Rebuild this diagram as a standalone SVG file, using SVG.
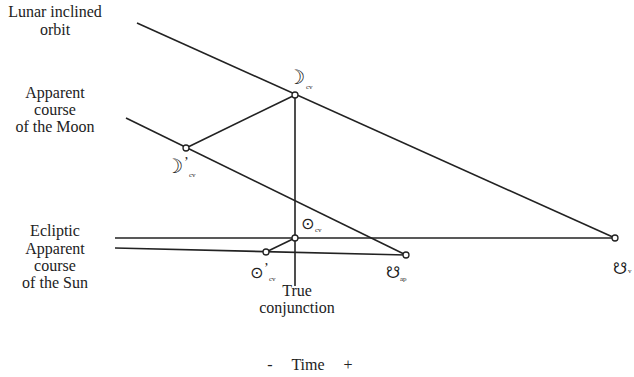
<svg xmlns="http://www.w3.org/2000/svg" width="634" height="377" viewBox="0 0 634 377">
<style>
.l{stroke:#222;stroke-width:1.6;fill:none}
.p{fill:#fff;stroke:#222;stroke-width:1.3}
text{font-family:'Liberation Serif','Times New Roman','DejaVu Serif',serif;fill:#222}
.t{font-size:16px;text-anchor:middle}
.s{font-family:'DejaVu Sans','Noto Sans',sans-serif;font-size:20px;font-weight:bold}
.o{font-family:'DejaVu Sans','Noto Sans',sans-serif;font-size:16px}
.pr{font-size:14px}
.sub{font-size:7px}
</style>
<rect width="634" height="377" fill="#fff"/>
<g id="labels">
<text class="t" x="55" y="17">Lunar inclined</text>
<text class="t" x="55" y="35">orbit</text>
<text class="t" x="55" y="98">Apparent</text>
<text class="t" x="55" y="115">course</text>
<text class="t" x="55" y="132">of the Moon</text>
<text class="t" x="55" y="236">Ecliptic</text>
<text class="t" x="55" y="254">Apparent</text>
<text class="t" x="55" y="271">course</text>
<text class="t" x="55" y="288">of the Sun</text>
<text class="t" x="297" y="296">True</text>
<text class="t" x="297" y="313">conjunction</text>
<text class="t" x="270" y="370">-</text>
<text class="t" x="308" y="370">Time</text>
<text class="t" x="348" y="370">+</text>
</g>
<g id="connectors">
<line class="l" x1="137" y1="23" x2="615" y2="238"/>
<line class="l" x1="126" y1="118" x2="406" y2="255"/>
<line class="l" x1="115" y1="238" x2="615" y2="238"/>
<line class="l" x1="115" y1="248" x2="406" y2="255"/>
<line class="l" x1="186" y1="148" x2="295" y2="95"/>
<line class="l" x1="295" y1="95" x2="295" y2="286"/>
<line class="l" x1="266" y1="252" x2="295" y2="238"/>
</g>
<g id="moon-cv"><circle class="p" cx="295" cy="95" r="3"/><text class="s" x="287" y="84">☽&#xFE0E;</text><text class="sub" x="306" y="89">cv</text></g>
<g id="moon-prime-cv"><circle class="p" cx="186" cy="148" r="3"/><text class="s" x="165" y="173">☽&#xFE0E;</text><text class="pr" x="184" y="167">’</text><text class="sub" x="189" y="177">cv</text></g>
<g id="sun-cv"><circle class="p" cx="295" cy="238" r="3"/><text class="o" x="301" y="229">⊙</text><text class="sub" x="315" y="232">cv</text></g>
<g id="sun-prime-cv"><circle class="p" cx="266" cy="252" r="3"/><text class="o" x="250" y="278">⊙</text><text class="pr" x="264" y="273">’</text><text class="sub" x="269" y="281">cv</text></g>
<g id="node-ap"><circle class="p" cx="406" cy="255" r="3"/><text class="o" x="386" y="278">☋&#xFE0E;</text><text class="sub" x="400" y="281">ap</text></g>
<g id="node-v"><circle class="p" cx="615" cy="238" r="3"/><text class="o" x="613" y="274">☋&#xFE0E;</text><text class="sub" x="628" y="273">v</text></g>
</svg>
